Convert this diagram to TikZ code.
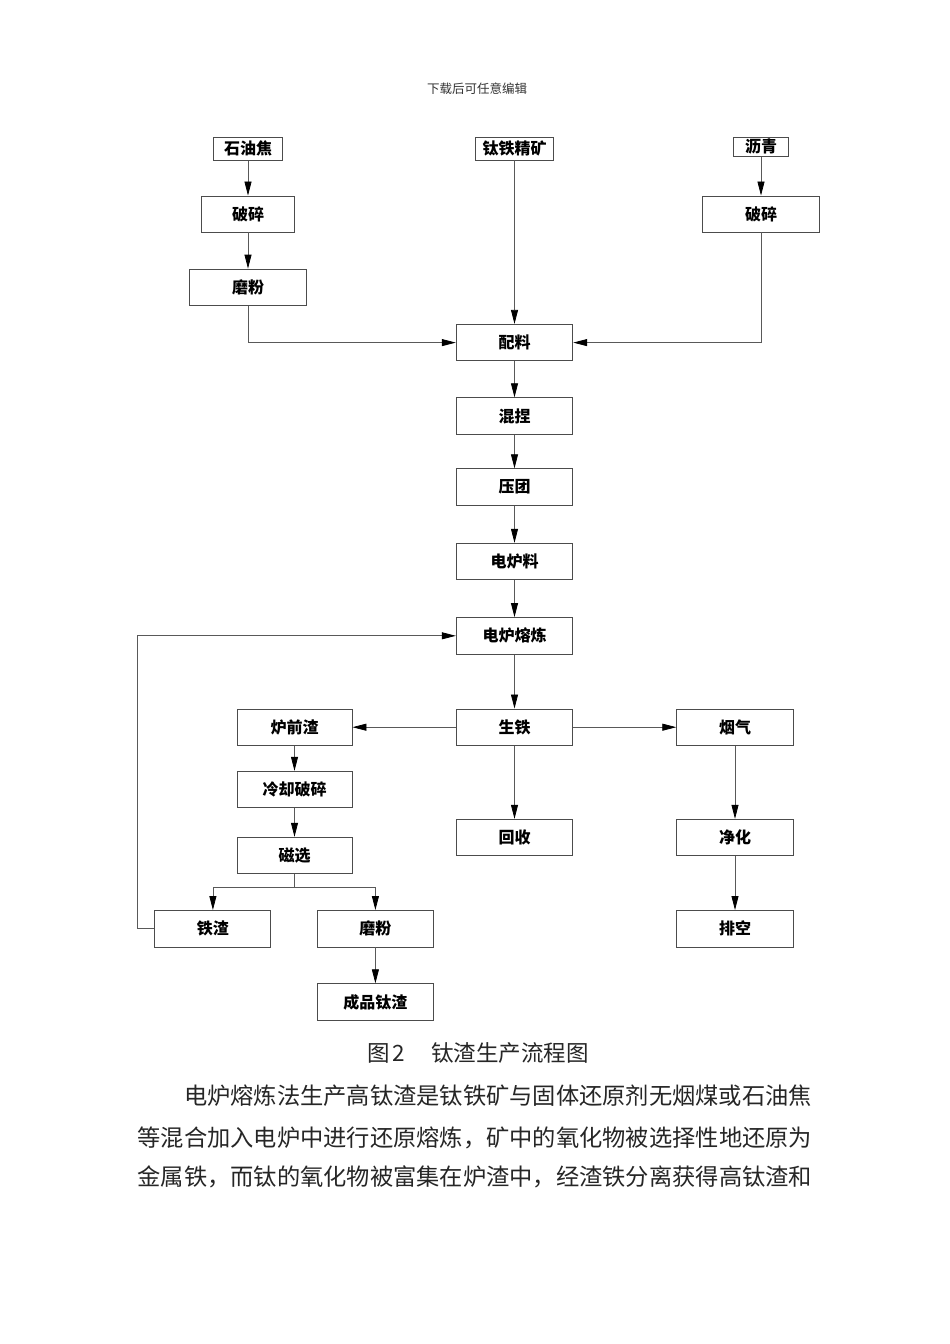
\documentclass[tikz,border=0pt]{standalone}
\usepackage{fontspec}
\newfontfamily\cjk{Noto Sans CJK SC}
\usetikzlibrary{arrows.meta}
\begin{document}
\begin{tikzpicture}[x=1pt,y=-1pt,
  box/.style={draw=black!70, line width=0.9pt, fill=white, inner sep=0pt,
    font=\cjk\bfseries\fontsize{16}{16}\selectfont, text=black},
  mbox/.style={box, minimum width=116.5pt, minimum height=36.5pt},
  arr/.style={draw=black!65, line width=0.8pt, -{Triangle[length=14pt,width=7pt,color=black]}},
  ln/.style={draw=black!65, line width=0.8pt},
  body/.style={inner sep=0pt, anchor=west, font=\cjk\fontsize{23.26}{23.26}\selectfont, text=black!85}]
\useasboundingbox (0,0) rectangle (950,1344);
\fill[white] (0,0) rectangle (950,1344);

% header
\node[inner sep=0pt, font=\cjk\fontsize{12.5}{12.5}\selectfont, text=black!80] (hdr) at (477,89) {下载后可任意编辑};

% top inputs
\node[box, minimum width=69.5pt, minimum height=22.7pt] (shy) at (248,148.7) {石油焦};
\node[box, minimum width=78.8pt, minimum height=23pt] (tkj) at (514.5,148.5) {钛铁精矿};
\node[box, minimum width=55pt, minimum height=19.7pt] (lq) at (761,146.8) {沥青};

\node[box, minimum width=92.9pt, minimum height=36pt] (psL) at (248,214) {破碎};
\node[box, minimum width=116.6pt, minimum height=36pt] (psR) at (761,214) {破碎};
\node[box, minimum width=117pt, minimum height=36.7pt] (mfL) at (248,287.4) {磨粉};

% main column
\node[mbox] (pl) at (514.5,342.6) {配料};
\node[mbox] (hn) at (514.5,416) {混捏};
\node[mbox] (yt) at (514.5,487) {压团};
\node[mbox] (dll) at (514.5,561.5) {电炉料};
\node[mbox] (dlrl) at (514.5,635.8) {电炉熔炼};
\node[mbox] (st) at (514.5,727.2) {生铁};
\node[mbox] (hs) at (514.5,837.5) {回收};

% left branch
\node[mbox, minimum width=115pt] (lqz) at (294.5,727.2) {炉前渣};
\node[mbox, minimum width=115pt] (lqps) at (294.5,789.5) {冷却破碎};
\node[mbox, minimum width=115pt] (cx) at (294.5,855.5) {磁选};
\node[mbox, minimum width=116pt] (tz) at (212.9,928.7) {铁渣};
\node[mbox, minimum width=115.2pt] (mfB) at (375.4,928.7) {磨粉};
\node[mbox, minimum width=115.2pt] (cptz) at (375.4,1002) {成品钛渣};

% right branch
\node[mbox] (yq) at (735,727.2) {烟气};
\node[mbox] (jh) at (735,837.5) {净化};
\node[mbox] (pk) at (735,928.7) {排空};

\coordinate (br) at (294.5,887.3);

% connectors
\draw[arr] (shy) -- (psL);
\draw[arr] (psL) -- (mfL);
\draw[arr] (mfL.south) |- (pl.west);
\draw[arr] (tkj) -- (pl);
\draw[arr] (lq) -- (psR);
\draw[arr] (psR.south) |- (pl.east);
\draw[arr] (pl) -- (hn);
\draw[arr] (hn) -- (yt);
\draw[arr] (yt) -- (dll);
\draw[arr] (dll) -- (dlrl);
\draw[arr] (dlrl) -- (st);
\draw[arr] (st) -- (hs);
\draw[arr] (st.west) -- (lqz.east);
\draw[arr] (st.east) -- (yq.west);
\draw[arr] (yq) -- (jh);
\draw[arr] (jh) -- (pk);
\draw[arr] (lqz) -- (lqps);
\draw[arr] (lqps) -- (cx);
\draw[ln] (cx.south) -- (br);
\draw[arr] (br) -| (tz.north);
\draw[arr] (br) -| (mfB.north);
\draw[arr] (mfB) -- (cptz);
\draw[arr] (tz.west) -- ++(-17,0) |- (dlrl.west);

% caption
\node[inner sep=0pt, anchor=west, font=\cjk\fontsize{22.5}{22.5}\selectfont, text=black!85] (cap) at (367,1053) {图\hspace{3pt}2\hspace{26pt}钛渣生产流程图};

% body text
\node[body] (p1) at (183.8,1096) {电炉熔炼法生产高钛渣是钛铁矿与固体还原剂无烟煤或石油焦};
\node[body] (p2) at (137.3,1137.5) {等混合加入电炉中进行还原熔炼，矿中的氧化物被选择性地还原为};
\node[body] (p3) at (137.3,1177) {金属铁，而钛的氧化物被富集在炉渣中，经渣铁分离获得高钛渣和};
\end{tikzpicture}
\end{document}
